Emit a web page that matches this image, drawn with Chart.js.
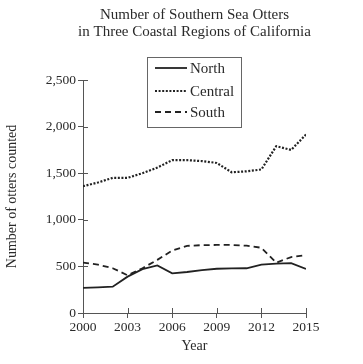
<!DOCTYPE html>
<html>
<head>
<meta charset="utf-8">
<script src="https://cdn.jsdelivr.net/npm/chart.js@4/dist/chart.umd.min.js"></script>
<style>
html,body{margin:0;padding:0;background:#fff;}
#wrap{width:363px;height:364px;position:relative;}
</style>
</head>
<body>
<div id="wrap"><canvas id="c" width="363" height="364"></canvas></div>
<script>
const years = [2000,2001,2002,2003,2004,2005,2006,2007,2008,2009,2010,2011,2012,2013,2014,2015];
const north   = [270,275,282,390,470,510,425,440,460,475,478,480,520,530,535,472];
const central = [1360,1400,1450,1450,1500,1560,1640,1640,1630,1610,1510,1520,1540,1790,1750,1915];
const south   = [540,520,480,405,480,570,670,720,728,730,730,722,700,540,600,620];
const seriesNames = ['North','Central','South'];
const titleLines = ['Number of Southern Sea Otters','in Three Coastal Regions of California'];
const yTicks = [0,500,1000,1500,2000,2500];
const xTicks = [2000,2003,2006,2009,2012,2015];

const SERIF = '"Liberation Serif", "DejaVu Serif", serif';
const INK = '#2a2a2a';
const AXIS = '#555';

function pts(vals){ return years.map((y,i)=>({x:y,y:vals[i]})); }

const extras = {
  id:'extras',
  afterDraw(chart){
    const ctx = chart.ctx;
    const xs = chart.scales.x, ys = chart.scales.y;
    const ca = chart.chartArea;
    ctx.save();
    // inner half of tick marks
    ctx.strokeStyle = AXIS; ctx.lineWidth = 1;
    ctx.beginPath();
    yTicks.forEach(v=>{ const p = Math.round(ys.getPixelForValue(v))+0.5; ctx.moveTo(ca.left, p); ctx.lineTo(ca.left+5, p); });
    xTicks.forEach(v=>{ const p = Math.round(xs.getPixelForValue(v))+0.5; ctx.moveTo(p, ca.bottom); ctx.lineTo(p, ca.bottom-5); });
    ctx.stroke();
    // title
    ctx.fillStyle = INK;
    ctx.font = '15px ' + SERIF;
    ctx.textAlign = 'center'; ctx.textBaseline = 'middle';
    const cx = (ca.left+ca.right)/2;
    ctx.fillText(titleLines[0], cx, 15);
    ctx.fillText(titleLines[1], cx, 32);
    // legend box
    const bx = 147, by = 57, bw = 94, bh = 70;
    ctx.strokeStyle = '#666'; ctx.lineWidth = 1;
    ctx.strokeRect(bx+0.5, by+0.5, bw, bh);
    const rows = [68, 91, 112];
    ctx.textAlign = 'left';
    ctx.font = '15px ' + SERIF;
    chart.data.datasets.forEach((ds,i)=>{
      ctx.save();
      ctx.strokeStyle = ds.borderColor; ctx.lineWidth = ds.borderWidth;
      ctx.setLineDash(ds.borderDash || []);
      ctx.beginPath(); ctx.moveTo(155, rows[i]); ctx.lineTo(187, rows[i]); ctx.stroke();
      ctx.restore();
      ctx.fillStyle = INK;
      ctx.fillText(ds.label, 190, rows[i]+1);
    });
    ctx.restore();
  }
};

new Chart(document.getElementById('c'), {
  type:'line',
  data:{
    datasets:[
      {label:seriesNames[0], data:pts(north), borderColor:'#222', borderWidth:1.8, borderDash:[], pointRadius:0, tension:0, fill:false},
      {label:seriesNames[1], data:pts(central), borderColor:'#222', borderWidth:2.2, borderDash:[2,1.6], pointRadius:0, tension:0, fill:false},
      {label:seriesNames[2], data:pts(south), borderColor:'#222', borderWidth:1.8, borderDash:[6,4], pointRadius:0, tension:0, fill:false}
    ]
  },
  options:{
    responsive:false, animation:false,
    layout:{padding:{top:80, right:57, left:0, bottom:0}},
    plugins:{legend:{display:false}, title:{display:false}, tooltip:{enabled:false}},
    scales:{
      x:{
        type:'linear', min:2000, max:2015,
        afterBuildTicks(s){ s.ticks = xTicks.map(v=>({value:v})); },
        afterFit(s){ s.height = 51; },
        grid:{drawOnChartArea:false, tickLength:5, color:AXIS},
        border:{color:AXIS, width:1},
        ticks:{color:INK, font:{family:SERIF, size:13.5}, padding:1, maxRotation:0, callback:v=>String(v)},
        title:{display:true, text:'Year', color:INK, font:{family:SERIF, size:14}, padding:{top:0,bottom:9}}
      },
      y:{
        min:0, max:2500,
        afterBuildTicks(s){ s.ticks = yTicks.map(v=>({value:v})); },
        afterFit(s){ s.width = 83; },
        grid:{drawOnChartArea:false, tickLength:5, color:AXIS},
        border:{color:AXIS, width:1},
        ticks:{color:INK, font:{family:SERIF, size:13.5}, padding:2, callback:v=>v.toLocaleString('en-US')},
        title:{display:true, text:'Number of otters counted', color:INK, font:{family:SERIF, size:14}, padding:{top:4,bottom:0}}
      }
    }
  },
  plugins:[extras]
});
</script>
</body>
</html>
